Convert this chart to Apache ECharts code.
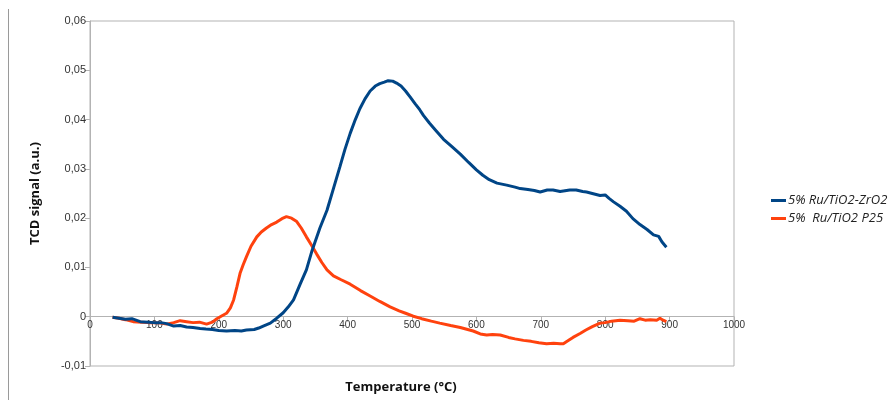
<!DOCTYPE html>
<html>
<head>
<meta charset="utf-8">
<script src="https://cdn.jsdelivr.net/npm/echarts@6/dist/echarts.min.js"></script>
<style>html,body{margin:0;padding:0;background:#fff;}#c{width:888px;height:400px;}</style>
</head>
<body>
<div id="c"></div>
<script>
const seriesNames = ['5% Ru/TiO2-ZrO2', '5%  Ru/TiO2 P25'];
const xTicks = [0,100,200,300,400,500,600,700,800,900,1000];
const yTicks = [-0.01,0,0.01,0.02,0.03,0.04,0.05,0.06];

const zrT = [35,45,55,65,78,90,100,110,119,130,140,150,160,171,180,190,200,212,225,235,243,255,262,269,280,290,300,308,316,326,336,345,357,368,378,388,396,404,412,419,427,435,443,450,457,463,470,476,483,490,497,505,512,518,527,537,549,562,575,588,600,610,620,632,647,660,668,680,690,699,710,719,730,745,755,765,771,780,792,800,806,813,823,833,843,854,865,875,883,888,895];
const zrV = [-0.0001,-0.0003,-0.0005,-0.0004,-0.001,-0.0011,-0.0012,-0.0012,-0.0014,-0.0019,-0.0018,-0.0021,-0.0022,-0.0024,-0.0025,-0.0026,-0.0028,-0.0029,-0.0028,-0.0029,-0.0027,-0.0026,-0.0023,-0.0019,-0.0013,-0.0003,0.0008,0.002,0.0034,0.0065,0.0095,0.0135,0.018,0.0216,0.026,0.0304,0.034,0.0372,0.040,0.0422,0.0442,0.0458,0.0468,0.0473,0.0476,0.0479,0.0478,0.0474,0.0468,0.0458,0.0446,0.0432,0.042,0.0408,0.0393,0.0378,0.036,0.0345,0.033,0.0313,0.0298,0.0287,0.0278,0.0271,0.0267,0.0263,0.026,0.0258,0.0256,0.0253,0.0257,0.0257,0.0254,0.0257,0.0257,0.0254,0.0253,0.025,0.0246,0.0247,0.024,0.0233,0.0224,0.0214,0.0199,0.0187,0.0177,0.0166,0.0163,0.0152,0.0141];

const p25T = [35,45,55,67,80,90,100,110,119,130,140,150,160,170,181,190,197,205,212,218,223,228,233,238,243,250,259,266,274,282,290,298,305,313,321,328,336,344,352,360,368,378,390,404,420,435,450,466,480,490,502,515,530,543,560,575,595,606,616,625,637,650,660,673,685,697,709,720,730,735,742,750,761,770,780,792,800,810,823,835,845,854,862,870,880,885,890,895];
const p25V = [-0.0001,-0.0003,-0.0006,-0.001,-0.0011,-0.0012,-0.0012,-0.0013,-0.0015,-0.0012,-0.0008,-0.001,-0.0012,-0.0011,-0.0015,-0.0011,-0.0004,0.0002,0.0007,0.0018,0.0034,0.006,0.0088,0.0106,0.0122,0.0143,0.0162,0.0172,0.018,0.0187,0.0192,0.0199,0.0203,0.02,0.0193,0.018,0.0162,0.0145,0.0127,0.011,0.0095,0.0083,0.0075,0.0066,0.0053,0.0042,0.0031,0.002,0.0012,0.0007,0.0001,-0.0004,-0.0009,-0.0013,-0.0018,-0.0022,-0.0029,-0.0035,-0.0037,-0.0036,-0.0037,-0.0042,-0.0045,-0.0048,-0.005,-0.0053,-0.0055,-0.0054,-0.0055,-0.0055,-0.0049,-0.0042,-0.0034,-0.0027,-0.002,-0.0013,-0.0012,-0.0009,-0.0007,-0.0008,-0.0009,-0.0004,-0.0007,-0.0006,-0.0007,-0.0003,-0.0007,-0.001];

const pair = (t, v) => t.map((x, i) => [x, v[i]]);
const chart = echarts.init(document.getElementById('c'), null, {renderer: 'canvas'});
const gray = '#b3b3b3';
const H = 400, gTop = 21, gBottom = 34;
const yMin = yTicks[0], yMax = yTicks[yTicks.length - 1];
const plotH = H - gTop - gBottom;
// place the x axis on the zero line
const zeroOffset = -plotH * (0 - yMin) / (yMax - yMin);
chart.setOption({
  animation: false,
  backgroundColor: '#fff',
  graphic: [{type: 'line', shape: {x1: 8.5, y1: 9, x2: 8.5, y2: 400}, style: {stroke: '#9a9a9a', lineWidth: 1}}],
  grid: {left: 90, right: 154, top: gTop, bottom: gBottom, show: true, borderColor: gray, borderWidth: 1,
         outerBoundsMode: 'none'},
  legend: {
    orient: 'vertical', left: 766, top: 189, itemWidth: 15, itemHeight: 3, itemGap: 5, icon: 'rect',
    textStyle: {fontFamily: 'Open Sans', fontStyle: 'italic', fontSize: 13, color: '#222', padding: [0,0,0,-3]},
    data: seriesNames
  },
  xAxis: {
    type: 'value', min: xTicks[0], max: xTicks[xTicks.length-1], interval: 100,
    position: 'bottom', offset: zeroOffset,
    name: 'Temperature (°C)', nameLocation: 'middle', nameGap: 64,
    nameTextStyle: {fontFamily: 'Open Sans', fontWeight: 'bold', fontSize: 13, color: '#111', padding: [0, 22, 0, 0]},
    axisLine: {onZero: false, lineStyle: {color: gray, width: 1}},
    axisTick: {show: true, length: 5, inside: false, lineStyle: {color: gray}},
    axisLabel: {fontFamily: 'Liberation Sans', fontSize: 10, color: '#333', margin: 4, formatter: v => String(v)},
    splitLine: {show: false}
  },
  yAxis: {
    type: 'value', min: yMin, max: yMax, interval: 0.01,
    name: 'TCD signal (a.u.)', nameLocation: 'middle', nameGap: 48,
    nameTextStyle: {fontFamily: 'Open Sans', fontWeight: 'bold', fontSize: 13, color: '#111'},
    axisLine: {show: true, onZero: false, lineStyle: {color: gray, width: 1}},
    axisTick: {show: true, length: 5, lineStyle: {color: gray}},
    axisLabel: {fontFamily: 'Liberation Sans', fontSize: 11, color: '#333', margin: 4,
      formatter: v => Math.abs(v) < 1e-9 ? '0' : v.toFixed(2).replace('.', ',')},
    splitLine: {show: false}
  },
  series: [
    {name: seriesNames[0], type: 'line', data: pair(zrT, zrV), showSymbol: false, symbol: 'none', smooth: false,
     lineStyle: {color: '#004586', width: 3}, itemStyle: {color: '#004586'}, z: 3},
    {name: seriesNames[1], type: 'line', data: pair(p25T, p25V), showSymbol: false, symbol: 'none', smooth: false,
     lineStyle: {color: '#ff420e', width: 3}, itemStyle: {color: '#ff420e'}, z: 2}
  ]
});
</script>
</body>
</html>
